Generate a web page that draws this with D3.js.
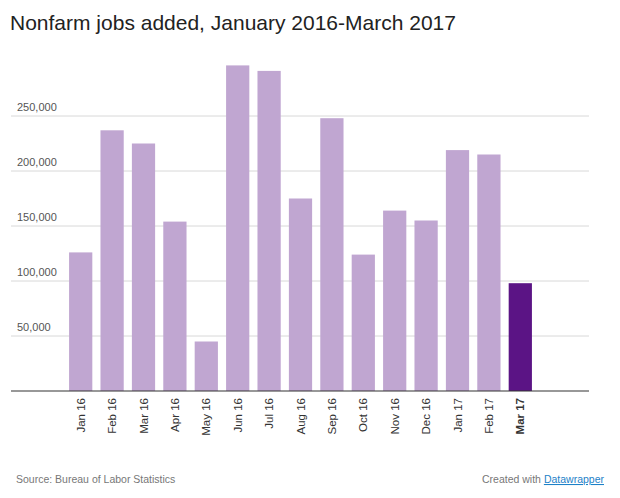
<!DOCTYPE html>
<html><head><meta charset="utf-8">
<script src="https://cdn.jsdelivr.net/npm/d3@7"></script>
<style>
body{margin:0;background:#fff;font-family:"Liberation Sans",Arial,sans-serif;}
</style></head>
<body><div id="area"></div>
<script>
var months = ["Jan 16","Feb 16","Mar 16","Apr 16","May 16","Jun 16","Jul 16","Aug 16","Sep 16","Oct 16","Nov 16","Dec 16","Jan 17","Feb 17","Mar 17"];
var jobs = [126000,237000,225000,154000,45000,296000,291000,175000,248000,124000,164000,155000,219000,215000,98000];
var yTicks = [50000,100000,150000,200000,250000];

var W = 620, H = 498;
var svg = d3.select('#area').append('svg').attr('width', W).attr('height', H);

svg.append('text').attr('x', 10).attr('y', 30)
   .attr('font-size', 21).attr('fill', '#222')
   .text('Nonfarm jobs added, January 2016-March 2017');

var x = d3.scaleBand().domain(months).range([65, 536]).paddingInner(0.26).paddingOuter(0.13);
var y = d3.scaleLinear().domain([0, 250000]).range([391, 116]);

var grid = svg.append('g');
yTicks.forEach(function(t) {
  grid.append('line').attr('x1', 11).attr('x2', 589)
      .attr('y1', y(t)).attr('y2', y(t)).attr('stroke', '#d8d8d8');
  grid.append('text').attr('x', 17).attr('y', y(t) - 5)
      .attr('font-size', 11).attr('fill', '#555').text(d3.format(',')(t));
});

svg.selectAll('rect.bar').data(jobs).enter().append('rect')
   .attr('class', 'bar')
   .attr('x', function(d, i) { return x(months[i]); })
   .attr('width', x.bandwidth())
   .attr('y', function(d) { return y(d); })
   .attr('height', function(d) { return y(0) - y(d); })
   .attr('fill', function(d, i) { return i == months.length - 1 ? '#5b1485' : '#c0a6d1'; });

svg.append('line').attr('x1', 11).attr('x2', 589).attr('y1', y(0)).attr('y2', y(0))
   .attr('stroke', '#333').attr('stroke-width', 1.2);

svg.selectAll('text.lab').data(months).enter().append('text')
   .attr('class', 'lab')
   .attr('transform', function(d) { return 'translate(' + (x(d) + x.bandwidth() / 2 + 4) + ',398) rotate(-90)'; })
   .attr('text-anchor', 'end')
   .attr('font-size', 11.5).attr('fill', '#333')
   .attr('font-weight', function(d, i) { return i == months.length - 1 ? 'bold' : 'normal'; })
   .text(function(d) { return d; });

svg.append('text').attr('x', 16).attr('y', 483).attr('font-size', 10.5).attr('fill', '#777')
   .text('Source: Bureau of Labor Statistics');
var cr = svg.append('text').attr('x', 604).attr('y', 483).attr('font-size', 10.5)
   .attr('fill', '#777').attr('text-anchor', 'end');
cr.append('tspan').text('Created with ');
cr.append('tspan').attr('fill', '#1d81c8').attr('text-decoration', 'underline').text('Datawrapper');
</script></body></html>
